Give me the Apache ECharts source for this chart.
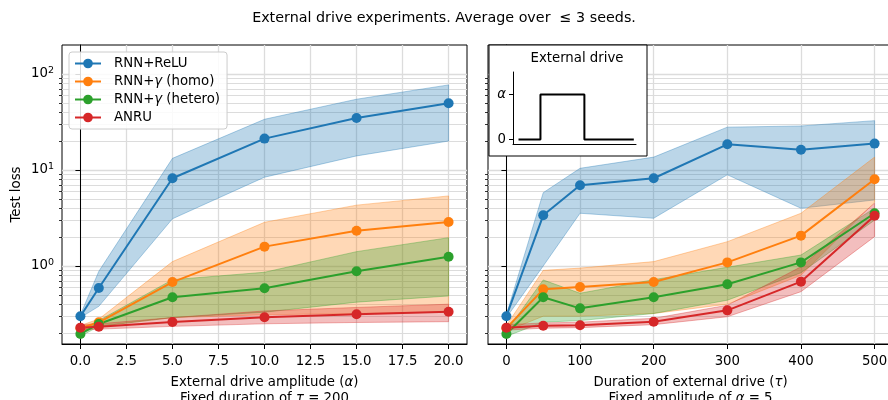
<!DOCTYPE html>
<html>
<head>
<meta charset="utf-8">
<script src="https://cdn.jsdelivr.net/npm/echarts@6/dist/echarts.min.js"></script>
<style>
html, body { margin: 0; padding: 0; background: #fff; }
#chart { width: 888px; height: 400px; }
</style>
</head>
<body>
<div id="chart"></div>
<script>
// ---- data ----
const seriesNames = ['RNN+ReLU', 'RNN+γ (homo)', 'RNN+γ (hetero)', 'ANRU'];

// Left panel: sweep over the drive amplitude (duration fixed at 200)
const alphaVals = [0, 1, 5, 10, 15, 20];
const reluAlpha   = [0.30, 0.59, 8.2, 21.2, 34.8, 49.5];
const reluAlphaLo = [0.29, 0.38, 3.1, 8.4, 14.0, 20.0];
const reluAlphaHi = [0.31, 0.88, 13.2, 33.7, 54.5, 76.8];
const homoAlpha   = [0.225, 0.259, 0.68, 1.59, 2.33, 2.87];
const homoAlphaLo = [0.21, 0.235, 0.29, 0.31, 0.32, 0.33];
const homoAlphaHi = [0.24, 0.28, 1.11, 2.85, 4.3, 5.36];
const heteroAlpha   = [0.196, 0.249, 0.472, 0.585, 0.88, 1.25];
const heteroAlphaLo = [0.185, 0.235, 0.29, 0.33, 0.42, 0.487];
const heteroAlphaHi = [0.21, 0.27, 0.72, 0.86, 1.41, 1.97];
const anruAlpha   = [0.228, 0.233, 0.261, 0.292, 0.314, 0.334];
const anruAlphaLo = [0.215, 0.22, 0.235, 0.25, 0.258, 0.263];
const anruAlphaHi = [0.245, 0.25, 0.29, 0.34, 0.37, 0.40];

// Right panel: sweep over the drive duration (amplitude fixed at 5)
const tauVals = [0, 50, 100, 200, 300, 400, 500];
const reluTau   = [0.30, 3.37, 6.92, 8.2, 18.5, 16.2, 18.8];
const reluTauLo = [0.29, 1.0, 3.54, 3.14, 8.9, 3.99, 4.87];
const reluTauHi = [0.31, 5.8, 10.4, 13.6, 27.9, 28.7, 32.6];
const homoTau   = [0.225, 0.571, 0.604, 0.68, 1.09, 2.07, 8.0];
const homoTauLo = [0.21, 0.30, 0.30, 0.32, 0.40, 0.80, 4.6];
const homoTauHi = [0.24, 0.90, 0.95, 1.11, 1.79, 3.54, 13.6];
const heteroTau   = [0.196, 0.472, 0.362, 0.472, 0.645, 1.09, 3.54];
const heteroTauLo = [0.185, 0.26, 0.27, 0.32, 0.44, 0.85, 3.0];
const heteroTauHi = [0.21, 0.715, 0.52, 0.72, 0.97, 1.3, 4.0];
const anruTau   = [0.228, 0.239, 0.241, 0.263, 0.345, 0.687, 3.34];
const anruTauLo = [0.215, 0.225, 0.228, 0.245, 0.296, 0.54, 2.02];
const anruTauHi = [0.245, 0.255, 0.26, 0.285, 0.39, 0.98, 4.5];

// Inset: shape of the rectangular drive pulse
const driveT = [0, 4, 4, 12, 12, 21];
const driveA = [0, 0, 1, 1, 0, 0];

// Tick values
const alphaTicks = [0, 2.5, 5, 7.5, 10, 12.5, 15, 17.5, 20];
const tauTicks = [0, 100, 200, 300, 400, 500];
const lossMajorTicks = [1, 10, 100];
const lossMinorTicks = [0.2, 0.3, 0.4, 0.5, 0.6, 0.7, 0.8, 0.9,
                        2, 3, 4, 5, 6, 7, 8, 9,
                        20, 30, 40, 50, 60, 70, 80, 90];
const insetTicks = [0, 1];
const insetTickLabels = ['{n|0}', '{i|α}'];

// ---- styling helpers ----
const colors = ['#1f77b4', '#ff7f0e', '#2ca02c', '#d62728'];
const FONT = 'DejaVu Sans';
const FS = 13.3;
const GRID_COLOR = '#dcdcdc';
const LOSS_MIN = 0.154, LOSS_MAX = 200;

function rgba(hex, a) {
  const n = parseInt(hex.slice(1), 16);
  return `rgba(${(n >> 16) & 255},${(n >> 8) & 255},${n & 255},${a})`;
}

function bandSeries(xs, lo, hi, color, axisIdx, yIdx) {
  return {
    type: 'custom',
    xAxisIndex: axisIdx,
    yAxisIndex: yIdx,
    z: 1,
    silent: true,
    clip: true,
    data: xs.map((x, i) => [x, lo[i], hi[i]]),
    renderItem(params, api) {
      if (params.dataIndex !== 0) return null;
      const pts = [];
      for (let i = 0; i < xs.length; i++) pts.push(api.coord([xs[i], hi[i]]));
      for (let i = xs.length - 1; i >= 0; i--) pts.push(api.coord([xs[i], lo[i]]));
      return {
        type: 'polygon',
        shape: { points: pts },
        style: { fill: rgba(color, 0.3), stroke: rgba(color, 0.35), lineWidth: 1 }
      };
    }
  };
}

function lineSeries(name, xs, ys, color, axisIdx, yIdx) {
  return {
    type: 'line',
    name: name,
    xAxisIndex: axisIdx,
    yAxisIndex: yIdx,
    z: 3,
    data: xs.map((x, i) => [x, ys[i]]),
    symbol: 'circle',
    symbolSize: 10,
    showSymbol: true,
    lineStyle: { color: color, width: 2 },
    itemStyle: { color: color },
    emphasis: { disabled: true },
    animation: false
  };
}

function xAxisMain(gridIndex, min, max, ticks, fmt, nameText) {
  return {
    type: 'value',
    gridIndex: gridIndex,
    min: min, max: max,
    axisLine: { show: true, onZero: false, lineStyle: { color: '#000', width: 1 } },
    axisTick: { show: true, inside: false, length: 5, customValues: ticks, lineStyle: { color: '#000', width: 1 } },
    axisLabel: { customValues: ticks, formatter: fmt, color: '#000', fontFamily: FONT, fontSize: FS, margin: 11 },
    splitLine: { show: true, lineStyle: { color: GRID_COLOR, width: 1.3 } },
    name: nameText,
    nameLocation: 'middle',
    nameGap: 31,
    nameTextStyle: {
      color: '#000', fontFamily: FONT, fontSize: FS, lineHeight: 15.5, align: 'center',
      rich: {
        n: { fontFamily: FONT, fontSize: FS, lineHeight: 15.5, color: '#000' },
        i: { fontFamily: FONT, fontSize: FS, lineHeight: 15.5, fontStyle: 'italic', color: '#000' }
      }
    }
  };
}

function yAxisMajor(gridIndex, showLabels, nameText) {
  return {
    type: 'log',
    gridIndex: gridIndex,
    position: 'left',
    min: LOSS_MIN, max: LOSS_MAX,
    logBase: 10,
    axisLine: { show: true, lineStyle: { color: '#000', width: 1 } },
    axisTick: { show: true, inside: false, length: 5, customValues: lossMajorTicks, lineStyle: { color: '#000', width: 1 } },
    axisLabel: {
      show: showLabels,
      customValues: lossMajorTicks,
      margin: 8,
      formatter: v => '{b|10}{s|' + Math.round(Math.log10(v)) + '}',
      rich: {
        b: { fontFamily: FONT, fontSize: FS, color: '#000' },
        s: { fontFamily: FONT, fontSize: 9.5, color: '#000', padding: [0, 0, 7, 0] }
      }
    },
    splitLine: { show: true, lineStyle: { color: GRID_COLOR, width: 1.3 } },
    name: nameText,
    nameLocation: 'middle',
    nameRotate: 90,
    nameGap: 39,
    nameTextStyle: { color: '#000', fontFamily: FONT, fontSize: FS }
  };
}

function yAxisMinor(gridIndex) {
  return {
    type: 'log',
    gridIndex: gridIndex,
    position: 'left',
    min: LOSS_MIN, max: LOSS_MAX,
    logBase: 10,
    axisLine: { show: false },
    axisTick: { show: true, inside: false, length: 3, customValues: lossMinorTicks, lineStyle: { color: '#000', width: 0.8 } },
    axisLabel: { show: false },
    splitLine: { show: true, lineStyle: { color: GRID_COLOR, width: 1.0 } }
  };
}

const richName = s => s.split(/([ατγ])/).filter(t => t.length)
  .map(t => /^[ατγ]$/.test(t) ? '{i|' + t + '}' : '{n|' + t + '}').join('');

const series = [];
const bandsAlpha = [
  [reluAlphaLo, reluAlphaHi], [homoAlphaLo, homoAlphaHi],
  [heteroAlphaLo, heteroAlphaHi], [anruAlphaLo, anruAlphaHi]
];
const meansAlpha = [reluAlpha, homoAlpha, heteroAlpha, anruAlpha];
const bandsTau = [
  [reluTauLo, reluTauHi], [homoTauLo, homoTauHi],
  [heteroTauLo, heteroTauHi], [anruTauLo, anruTauHi]
];
const meansTau = [reluTau, homoTau, heteroTau, anruTau];

for (let k = 0; k < 4; k++) {
  series.push(bandSeries(alphaVals, bandsAlpha[k][0], bandsAlpha[k][1], colors[k], 0, 0));
  series.push(bandSeries(tauVals, bandsTau[k][0], bandsTau[k][1], colors[k], 1, 2));
}
for (let k = 0; k < 4; k++) {
  series.push(lineSeries(seriesNames[k], alphaVals, meansAlpha[k], colors[k], 0, 0));
  series.push(lineSeries(seriesNames[k], tauVals, meansTau[k], colors[k], 1, 2));
}

// Inset pulse
series.push({
  type: 'line',
  xAxisIndex: 2,
  yAxisIndex: 4,
  z: 12,
  data: driveT.map((t, i) => [t, driveA[i]]),
  symbol: 'none',
  lineStyle: { color: '#000', width: 2 },
  silent: true,
  clip: false,
  animation: false,
  markPoint: {
    symbol: 'circle',
    symbolSize: 0,
    silent: true,
    data: [{ coord: [(driveT[2] + driveT[3]) / 2, driveA[2]] }],
    label: { show: true, formatter: 'τ', offset: [0, -12], color: '#000', fontFamily: FONT, fontSize: FS, fontStyle: 'italic' }
  }
});

const gridBase = { show: true, borderColor: '#000', borderWidth: 1, backgroundColor: 'transparent', outerBoundsMode: 'none', containLabel: false };

const option = {
  animation: false,
  backgroundColor: '#fff',
  title: {
    text: 'External drive experiments. Average over  ≤ 3 seeds.',
    left: 'center',
    top: 11,
    padding: 0,
    textStyle: { fontFamily: FONT, fontSize: 14.3, fontWeight: 'normal', color: '#000' }
  },
  grid: [
    Object.assign({ left: 62, top: 45, width: 405, height: 299 }, gridBase),
    Object.assign({ left: 488, top: 45, width: 405, height: 299 }, gridBase),
    { left: 513, top: 72, width: 123, height: 72, show: false, outerBoundsMode: 'none', containLabel: false }
  ],
  legend: {
    data: seriesNames,
    orient: 'vertical',
    left: 69,
    top: 52,
    padding: [5, 7, 5, 5],
    itemGap: 5,
    itemWidth: 26,
    itemHeight: 12,
    backgroundColor: 'rgba(255,255,255,0.85)',
    borderColor: '#cccccc',
    borderWidth: 1,
    borderRadius: 3,
    selectedMode: false,
    lineStyle: { width: 2 },
    formatter: name => richName(name),
    textStyle: {
      fontFamily: FONT, fontSize: FS, color: '#000', padding: [0, 0, 0, 8],
      rich: {
        n: { fontFamily: FONT, fontSize: FS, color: '#000' },
        i: { fontFamily: FONT, fontSize: FS, color: '#000', fontStyle: 'italic' }
      }
    }
  },
  xAxis: [
    xAxisMain(0, -1, 21, alphaTicks, v => v.toFixed(1),
      richName('External drive amplitude (α)') + '\n' + richName('Fixed duration of τ = 200')),
    xAxisMain(1, -25, 525, tauTicks, v => String(v),
      richName('Duration of external drive (τ)') + '\n' + richName('Fixed amplitude of α = 5')),
    {
      type: 'value', gridIndex: 2, min: -1, max: 21.4, z: 11,
      axisLine: { show: true, onZero: false, lineStyle: { color: '#000', width: 1 } },
      axisTick: { show: false }, axisLabel: { show: false }, splitLine: { show: false }
    }
  ],
  yAxis: [
    yAxisMajor(0, true, 'Test loss'),
    yAxisMinor(0),
    yAxisMajor(1, false, ''),
    yAxisMinor(1),
    {
      type: 'value', gridIndex: 2, min: -0.1, max: 1.5, z: 11, position: 'left',
      axisLine: { show: true, onZero: false, lineStyle: { color: '#000', width: 1 } },
      axisTick: { show: true, length: 4, customValues: insetTicks, lineStyle: { color: '#000' } },
      axisLabel: {
        customValues: insetTicks, margin: 7,
        formatter: v => insetTickLabels[insetTicks.indexOf(v)],
        rich: {
          n: { fontFamily: FONT, fontSize: FS, color: '#000' },
          i: { fontFamily: FONT, fontSize: FS, color: '#000', fontStyle: 'italic' }
        }
      },
      splitLine: { show: false }
    }
  ],
  graphic: [
    {
      type: 'rect', z: 10,
      shape: { x: 489, y: 45, width: 158, height: 111 },
      style: { fill: '#fff', stroke: '#000', lineWidth: 1 }
    },
    {
      type: 'text', z: 12,
      x: 577, y: 59,
      style: { text: 'External drive', fill: '#000', font: FS + 'px "' + FONT + '"', textAlign: 'center', textVerticalAlign: 'middle' }
    }
  ],
  series: series
};

const chart = echarts.init(document.getElementById('chart'), null, { renderer: 'canvas' });
chart.setOption(option);
</script>
</body>
</html>
